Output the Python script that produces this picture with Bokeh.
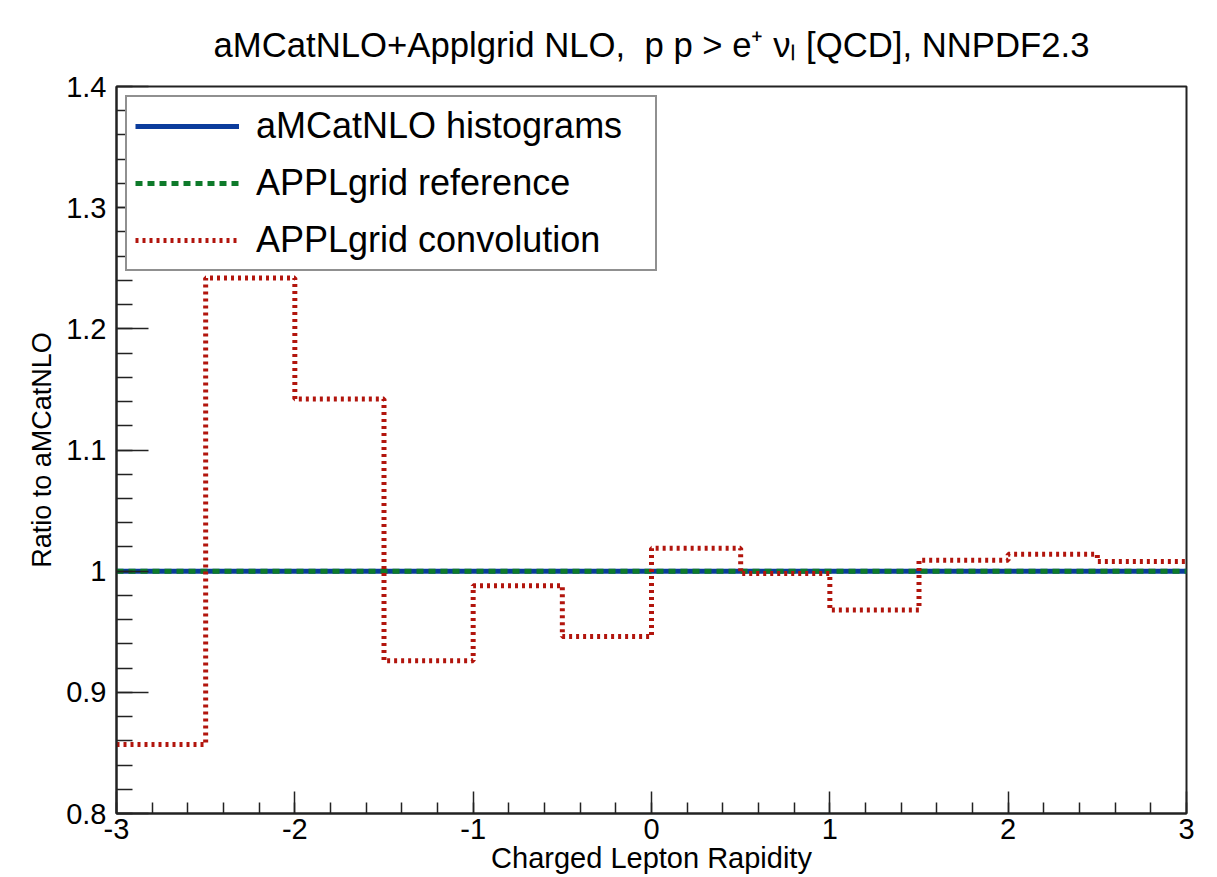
from bokeh.plotting import figure
from bokeh.models import (Range1d, FixedTicker, CustomJSTickFormatter, Legend,
                          LegendItem)
from bokeh.embed import file_html
from bokeh.resources import INLINE

# ---- data ----
bin_edges = [-3.0, -2.5, -2.0, -1.5, -1.0, -0.5, 0.0, 0.5, 1.0, 1.5, 2.0, 2.5, 3.0]
amcatnlo_ratio = [1.0, 1.0, 1.0, 1.0, 1.0, 1.0, 1.0, 1.0, 1.0, 1.0, 1.0, 1.0]
applgrid_reference = [1.0, 1.0, 1.0, 1.0, 1.0, 1.0, 1.0, 1.0, 1.0, 1.0, 1.0, 1.0]
applgrid_convolution = [0.857, 1.242, 1.142, 0.926, 0.988, 0.946,
                        1.019, 0.998, 0.968, 1.009, 1.014, 1.008]
x_major_ticks = [-3, -2, -1, 0, 1, 2, 3]
y_major_ticks = [0.8, 0.9, 1.0, 1.1, 1.2, 1.3, 1.4]

title_text = "aMCatNLO+Applgrid NLO,\u00a0 p p > e\u207a \u03bd\u2097 [QCD], NNPDF2.3"
x_title = "Charged Lepton Rapidity"
y_title = "Ratio to aMCatNLO"
legend_labels = ["aMCatNLO histograms", "APPLgrid reference", "APPLgrid convolution"]

FONT = "Liberation Sans"
BLUE = "#0b3c9c"
GREEN = "#0e7a2a"
RED = "#b2150d"


def ext(v):
    return list(v) + [v[-1]]


p = figure(width=1210, height=876, output_backend="svg", toolbar_location=None,
           x_range=Range1d(-3, 3), y_range=Range1d(0.8, 1.4),
           min_border_left=116, min_border_right=24, min_border_top=86,
           min_border_bottom=63, title=title_text)
p.title.align = "center"
p.title.text_font = FONT
p.title.text_font_size = "34.7px"
p.title.text_font_style = "normal"
p.title.text_color = "black"
p.title.standoff = 45

p.xgrid.visible = False
p.ygrid.visible = False
p.outline_line_color = "#222222"
p.outline_line_width = 2
p.background_fill_color = "white"
p.border_fill_color = "white"

r_blue = p.step(bin_edges, ext(amcatnlo_ratio), mode="after", line_color=BLUE, line_width=5)
r_green = p.step(bin_edges, ext(applgrid_reference), mode="after", line_color=GREEN,
                 line_width=5, line_dash="7 5")
r_red = p.step(bin_edges, ext(applgrid_convolution), mode="after", line_color=RED,
               line_width=5, line_dash="3 4")

# axes
xminor = [round(-3 + 0.2 * i, 2) for i in range(31)]
yminor = [round(0.8 + 0.02 * i, 3) for i in range(31)]
p.xaxis.ticker = FixedTicker(ticks=x_major_ticks, minor_ticks=xminor)
p.yaxis.ticker = FixedTicker(ticks=y_major_ticks, minor_ticks=yminor)
p.xaxis.formatter = CustomJSTickFormatter(code="return tick.toFixed(0)")
p.yaxis.formatter = CustomJSTickFormatter(code="return (Math.round(tick*10)/10).toString()")

for ax, maj, mnr in ((p.xaxis, 22, 11), (p.yaxis, 32, 16)):
    ax.major_tick_in = maj
    ax.major_tick_out = 0
    ax.minor_tick_in = mnr
    ax.minor_tick_out = 0
    ax.axis_line_color = "#222222"
    ax.axis_line_width = 2
    ax.major_tick_line_color = "#222222"
    ax.major_tick_line_width = 1.5
    ax.minor_tick_line_color = "#222222"
    ax.minor_tick_line_width = 1.5
    ax.major_label_text_font = FONT
    ax.major_label_text_font_size = "29px"
    ax.major_label_text_color = "black"
    ax.axis_label_text_font = FONT
    ax.axis_label_text_font_style = "normal"
    ax.axis_label_text_color = "black"

p.xaxis.major_label_standoff = 5
p.xaxis.axis_label = x_title
p.xaxis.axis_label_text_font_size = "29px"
p.xaxis.axis_label_standoff = 0

p.yaxis.major_label_standoff = 10
p.yaxis.axis_label = y_title
p.yaxis.axis_label_text_font_size = "27px"
p.yaxis.axis_label_standoff = 6

legend = Legend(items=[LegendItem(label=legend_labels[0], renderers=[r_blue]),
                       LegendItem(label=legend_labels[1], renderers=[r_green]),
                       LegendItem(label=legend_labels[2], renderers=[r_red])],
                location="top_left", margin=9, padding=8, spacing=15,
                glyph_width=104, glyph_height=30, label_standoff=17,
                label_width=391,
                label_text_font=FONT, label_text_font_size="36px",
                label_text_color="black", border_line_color="#222222",
                border_line_width=2, background_fill_alpha=1.0)
p.add_layout(legend)

open("out.html", "w").write(file_html(p, INLINE))
